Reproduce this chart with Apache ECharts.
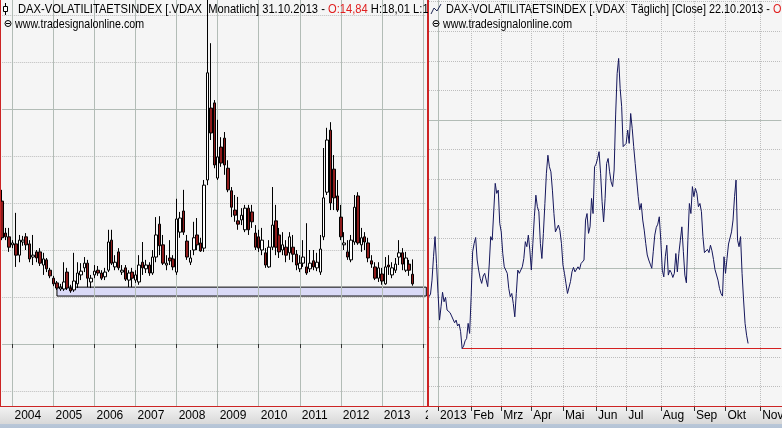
<!DOCTYPE html>
<html><head><meta charset="utf-8">
<script src="https://cdn.jsdelivr.net/npm/echarts/dist/echarts.min.js"></script>
<style>
html,body{margin:0;padding:0;background:#f5f5f5;overflow:hidden;width:782px;height:428px}
#L{position:absolute;left:0;top:0;width:428px;height:428px}
#R{position:absolute;left:428px;top:0;width:354px;height:428px}
</style></head><body>
<div id="L"></div><div id="R"></div>
<script>
// ---------- monthly candles (Oct 2003 .. Oct 2013) ----------
const vdaxOpen = [30.4,23.6,22.8,
 21.1,21.3,18.9,21.7,22.8,21.3,18.5,19.6,19.6,16.8,17.9,15.7,
 14.0,13.0,11.7,11.7,15.3,11.9,11.5,12.8,14.7,16.2,17.2,13.2,
 14.7,15.7,15.1,14.3,15.7,22.1,16.4,19.6,15.3,16.2,13.6,15.3,
 13.6,13.2,17.4,16.0,16.8,15.1,18.5,25.5,21.1,16.8,18.3,18.1,
 15.3,23.8,28.3,21.9,17.4,20.0,23.2,21.5,20.4,34.9,50.2,51.3,
 35.3,41.9,43.8,37.4,32.6,28.5,26.2,26.4,24.3,28.9,28.1,23.6,
 22.8,20.0,19.4,16.4,20.6,26.2,23.2,20.0,20.6,19.4,20.6,19.1,
 16.0,17.2,16.4,16.0,17.7,16.2,15.3,22.8,32.3,45.5,37.2,31.5,
 27.0,21.1,19.6,17.9,21.7,31.5,21.1,22.8,21.5,17.7,16.4,14.0,
 14.9,12.8,16.8,14.7,15.7,18.5,19.4,15.7,17.0,14.84];
const vdaxClose = [22.6,22.8,20.6,
 21.5,18.9,22.1,22.1,21.1,18.1,18.9,18.3,17.2,18.1,16.0,14.5,
 12.8,11.9,12.1,13.2,11.9,11.3,13.4,15.1,15.5,17.2,14.0,14.0,
 15.5,15.1,14.0,15.3,21.7,17.2,17.4,16.2,15.7,13.8,15.1,14.0,
 14.7,16.8,16.2,16.8,15.1,18.5,23.2,20.9,17.2,17.2,17.7,16.4,
 26.6,26.8,23.8,18.5,18.3,22.6,21.1,19.8,33.8,57.7,44.9,38.1,
 39.8,38.5,38.1,32.8,29.1,27.4,25.5,27.4,28.9,24.3,26.0,20.6,
 20.4,22.1,16.8,20.6,25.3,20.6,19.6,21.1,18.9,22.8,19.1,16.8,
 17.2,18.5,15.1,17.2,16.4,17.4,20.2,31.1,43.4,30.0,31.1,28.5,
 22.8,21.5,18.5,22.1,29.1,21.5,22.6,21.7,18.3,17.0,14.0,16.2,
 13.4,16.4,16.4,16.2,17.0,19.4,17.0,18.3,15.7,12.8];
const vdaxLow = [22.1,22.1,19.6,
 20.4,16.4,17.4,20.9,20.0,17.4,16.8,17.4,16.6,14.7,15.3,14.0,
 12.3,11.5,11.3,11.3,11.5,10.9,11.1,11.9,13.6,15.3,12.1,11.9,
 14.0,14.5,13.6,13.6,15.3,16.8,15.7,15.7,14.7,13.4,12.1,12.1,
 13.0,12.6,14.7,15.1,14.5,14.7,17.4,18.9,16.8,15.7,16.8,15.7,
 14.7,22.6,23.2,17.9,16.8,18.9,20.0,19.6,19.6,33.8,43.4,37.4,
 34.9,37.7,36.0,32.3,27.0,26.0,24.3,25.3,23.8,23.2,24.7,20.0,
 19.6,18.9,16.2,16.2,20.0,18.9,18.3,18.9,17.4,17.9,17.4,15.7,
 15.3,16.4,14.7,15.3,15.7,15.5,14.7,22.1,31.7,28.5,28.5,28.1,
 22.1,20.0,17.9,17.4,21.1,21.1,19.6,20.0,17.4,16.2,13.6,13.2,
 12.6,12.6,14.7,14.0,15.1,16.8,15.7,15.3,14.5,12.4];
const vdaxHigh = [32.8,24.7,24.7,
 22.1,27.9,23.2,23.0,23.6,22.1,23.2,20.0,20.4,19.4,18.3,16.2,
 14.5,13.4,12.8,17.4,16.2,12.6,19.4,17.4,17.2,18.5,17.9,14.7,
 16.8,16.6,15.7,16.2,24.3,24.3,18.9,20.4,16.8,16.8,15.7,16.2,
 15.7,18.9,21.7,17.9,17.4,20.0,27.0,27.2,23.2,18.9,22.1,18.9,
 30.9,28.1,32.8,23.2,20.0,26.0,26.8,22.6,34.9,76.0,64.0,51.9,
 47.7,44.0,45.1,39.1,33.4,31.7,31.3,28.9,29.6,29.6,29.6,25.3,
 24.3,24.7,20.4,22.1,33.4,29.6,24.7,23.8,22.1,23.8,23.2,20.0,
 18.9,22.1,25.7,20.0,20.0,19.4,23.2,41.7,46.0,47.2,40.2,34.9,
 29.6,23.8,22.1,23.2,31.7,32.3,24.7,23.8,22.6,18.9,17.4,17.4,
 16.2,18.5,18.9,17.4,18.3,22.1,20.4,19.6,17.9,18.01];
const BAND_LOW = 10.2, BAND_HIGH = 12.1, BAND_FROM = '2005-02';

// ---------- daily closes (18.12.2012 .. 22.10.2013) ----------
const dailyClose = [
 14.03,14.12,14.59,15.38,16.06,15.15,14.14,13.24,13.69,14.18,
 13.86,14.01,13.58,13.52,13.49,13.38,13.44,13.15,13.24,13.04,
 13.11,12.85,12.28,12.36,12.54,12.62,13.13,12.79,14.03,15.55,
 15.83,16.03,15.27,14.93,14.65,14.48,14.73,14.82,14.87,14.37,
 15.10,16.06,15.94,16.00,17.86,17.52,17.63,16.51,16.22,15.49,
 15.04,14.93,14.82,14.31,14.03,14.14,13.80,13.35,14.14,14.93,
 14.82,14.93,15.04,15.32,15.89,15.72,16.11,15.61,14.93,15.83,
 16.73,17.46,17.07,16.90,15.83,15.32,16.17,17.18,18.20,18.81,
 18.42,18.25,17.63,16.84,16.22,16.22,16.45,16.26,15.83,15.10,
 14.82,14.48,14.14,14.12,14.54,14.87,15.02,14.87,14.93,15.04,
 14.95,15.15,15.10,15.27,16.62,16.84,16.17,16.39,17.35,16.84,
 18.42,18.51,18.70,18.93,18.20,17.24,16.56,17.35,18.53,18.70,
 18.25,17.91,17.75,18.31,20.17,21.57,22.08,21.07,20.45,19.10,
 19.15,19.21,19.66,19.21,20.22,19.72,19.10,18.53,17.97,17.41,
 16.96,17.18,16.62,16.28,15.83,15.44,15.27,15.13,14.99,15.55,
 16.11,16.37,16.48,16.73,15.94,14.93,14.70,15.38,15.77,14.76,
 14.93,14.84,14.68,14.82,15.49,14.87,15.49,15.94,16.39,15.55,
 14.76,14.50,15.94,17.18,16.84,17.75,17.41,17.69,17.52,17.07,
 17.18,16.90,16.06,15.52,15.49,15.63,15.52,15.77,15.58,15.29,
 14.95,14.93,14.59,14.31,14.14,14.05,15.38,14.82,15.32,15.81,
 15.77,16.22,16.62,17.41,17.97,15.94,15.72,16.06,14.82,13.92,
 13.13,12.73,12.45];
const LOW_LINE = 12.28, LOW_FROM_INDEX = 22;

// ---------- axis labels / texts ----------
const MONTH_LABELS = ['Jan','Feb','Mrz','Apr','Mai','Jun','Jul','Aug','Sep','Okt','Nov','Dez'];
const HOLIDAYS = ['2012-12-24','2012-12-25','2012-12-26','2012-12-31','2013-01-01','2013-03-29','2013-04-01','2013-05-01'];
const TITLE_L = 'DAX-VOLATILITAETSINDEX [.VDAX  Monatlich] 31.10.2013 - ';
const TITLE_L_O = 'O:14,84', TITLE_L_REST = ' H:18,01 L:12,4';
const TITLE_R = 'DAX-VOLATILITAETSINDEX [.VDAX  Täglich] [Close] 22.10.2013 - ';
const TITLE_R_O = 'O:';
const SOURCE = 'www.tradesignalonline.com';

// monthly categories Oct 2003 .. Feb 2014
const monthCats = [];
for (let i = 0; i < 125; i++) {
  const y = 2003 + Math.floor((9 + i) / 12), m = (9 + i) % 12 + 1;
  monthCats.push(y + '-' + String(m).padStart(2, '0'));
}
// trading-day categories
const dayCats = [];
{
  const d = new Date(Date.UTC(2012, 11, 18));
  while (dayCats.length < 235) {
    const wd = d.getUTCDay(), s = d.toISOString().slice(0, 10);
    if (wd !== 0 && wd !== 6 && HOLIDAYS.indexOf(s) < 0) dayCats.push(s);
    d.setUTCDate(d.getUTCDate() + 1);
  }
}
const isMonthStart = i => i > 0 && dayCats[i].slice(0, 7) !== dayCats[i - 1].slice(0, 7);
const yearStarts = monthCats.filter(v => v.endsWith('-01'));
const monthStarts = dayCats.filter((v, i) => isMonthStart(i));

const FONT = '"Liberation Sans",Arial,sans-serif';
const TFONT = '13px ' + FONT;
const RED = '#cc2424';
const SOLID = '#b2bcb6';
const DOT = '#bdbdbd';

const mctx = document.createElement('canvas').getContext('2d');
function fit(text, target) { mctx.font = TFONT; return target / mctx.measureText(text).width; }

function strip(w) {
  return {
    type: 'rect', z: 100, silent: true,
    shape: { x: 0, y: 407, width: w, height: 21 },
    style: { fill: new echarts.graphic.LinearGradient(0, 0, 0, 1, [
      { offset: 0, color: '#f2f2f2' }, { offset: 0.8, color: '#d8d8d8' },
      { offset: 0.81, color: '#b9c7d8' }, { offset: 1, color: '#b4c3d6' }]) }
  };
}
function rline(x1, y1, x2, y2) {
  return { type: 'line', z: 150, silent: true, shape: { x1, y1, x2, y2 }, style: { stroke: RED, lineWidth: 1 } };
}
function txt(x, y, text, sx, rich) {
  return { type: 'text', z: 150, silent: true, x, y, scaleX: sx, originX: 0, originY: 0,
    style: { x: 0, y: 0, text, font: TFONT, fill: '#000', verticalAlign: 'middle', rich: rich || {} } };
}
function wwwIcon(x) {
  return { type: 'group', z: 150, silent: true, children: [
    { type: 'circle', shape: { cx: x, cy: 23.5, r: 3 }, style: { fill: 'none', stroke: '#000', lineWidth: 1 }, z: 150 },
    { type: 'line', shape: { x1: x - 2, y1: 23.5, x2: x + 2, y2: 23.5 }, style: { stroke: '#000', lineWidth: 1 }, z: 150 }
  ] };
}
const richBase = {
  a: { fill: '#000', font: TFONT },
  r: { fill: '#e02020', font: TFONT }
};
function labelAxis(cats, offset, showFn, fmt) {
  return { type: 'category', data: cats, boundaryGap: false, position: 'bottom', offset, z: 200,
    axisLine: { show: false },
    axisTick: { show: true, interval: showFn, length: 4, lineStyle: { color: '#333' } },
    axisLabel: { show: true, interval: showFn, formatter: fmt, align: 'left', margin: 3,
      padding: [0, 0, 0, 2], fontFamily: FONT, fontSize: 12, color: '#000' },
    splitLine: { show: false } };
}
function gridY(min, max, step, type, color) {
  return { type: 'value', min, max, interval: step, axisLine: { show: false }, axisTick: { show: false },
    axisLabel: { show: false }, splitLine: { show: true, lineStyle: { type, color } } };
}

// ---------- left chart ----------
const candleData = vdaxOpen.map((o, i) => [o, vdaxClose[i], vdaxLow[i], vdaxHigh[i]]);
const chartL = echarts.init(document.getElementById('L'), null, { renderer: 'canvas' });
chartL.setOption({
  animation: false,
  backgroundColor: '#f5f5f5',
  grid: { left: 2.24, right: 1.7, top: -32, bottom: -151, containLabel: false, outerBoundsMode: 'none' },
  xAxis: [labelAxis(monthCats, -172.5, (i, v) => v.endsWith('-01'), v => v.slice(0, 4))],
  yAxis: [gridY(-50, 80, 10, 'dotted', DOT), gridY(-50, 80, 50, 'solid', SOLID)],
  series: [{
    type: 'candlestick', data: candleData, barWidth: 3, clip: false, z: 3,
    itemStyle: { color: '#ffffff', color0: '#8e1b1b', borderColor: '#000', borderColor0: '#000', borderWidth: 1 },
    markArea: { silent: true, z: 1, itemStyle: { color: '#dadaf7', borderColor: '#000', borderWidth: 1 },
      data: [[{ xAxis: BAND_FROM, yAxis: BAND_LOW }, { xAxis: monthCats[monthCats.length - 1], yAxis: BAND_HIGH }]] },
    markLine: { silent: true, z: 2, symbol: 'none', label: { show: false },
      lineStyle: { color: SOLID, width: 1, type: 'solid' },
      data: yearStarts.map(v => ({ xAxis: v })) }
  }],
  graphic: [
    strip(428),
    rline(0.5, 0, 0.5, 407), rline(427.5, 0, 427.5, 407), rline(0, 406.5, 428, 406.5),
    { type: 'line', z: 150, silent: true, shape: { x1: 5.5, y1: 3, x2: 5.5, y2: 15 }, style: { stroke: '#000', lineWidth: 1 } },
    { type: 'rect', z: 151, silent: true, shape: { x: 3.5, y: 6.5, width: 4, height: 5 }, style: { fill: '#fff', stroke: '#000', lineWidth: 1 } },
    txt(18, 9, '{a|' + TITLE_L + '}{r|' + TITLE_L_O + '}{a|' + TITLE_L_REST + '}', fit(TITLE_L, 310), richBase),
    wwwIcon(8), txt(15, 24.5, SOURCE, fit(SOURCE, 129))
  ]
});

// ---------- right chart ----------
const chartR = echarts.init(document.getElementById('R'), null, { renderer: 'canvas' });
chartR.setOption({
  animation: false,
  backgroundColor: '#f5f5f5',
  grid: { left: 1, right: 0.8, top: -10.24, bottom: 12, containLabel: false, outerBoundsMode: 'none' },
  xAxis: [labelAxis(dayCats, -9, i => isMonthStart(i),
    v => v.slice(5, 7) === '01' ? v.slice(0, 4) : MONTH_LABELS[+v.slice(5, 7) - 1])],
  yAxis: [gridY(10, 24.4, 1, 'dotted', DOT), gridY(10, 24.4, 5, 'solid', SOLID)],
  series: [{
    type: 'line', data: dailyClose, symbol: 'none', showSymbol: false, z: 3,
    lineStyle: { color: '#15175c', width: 1 }, itemStyle: { color: '#15175c' },
    markLine: { silent: true, z: 2, symbol: 'none', label: { show: false },
      data: monthStarts.map(v => ({ xAxis: v,
        lineStyle: v.slice(5, 7) === '01' ? { color: SOLID, width: 1, type: 'solid' } : { color: DOT, width: 1, type: 'dotted' } }))
        .concat([[{ xAxis: LOW_FROM_INDEX, yAxis: LOW_LINE, lineStyle: { color: '#d42020', width: 1, type: 'solid' } },
                  { xAxis: dayCats.length - 1, yAxis: LOW_LINE }]]) }
  }],
  graphic: [
    strip(354),
    rline(0.5, 0, 0.5, 407), rline(0, 406.5, 354, 406.5),
    { type: 'polyline', z: 150, silent: true, shape: { points: [[3, 14], [6, 8], [9, 11], [13, 4]] }, style: { stroke: '#222a55', lineWidth: 1, fill: 'none' } },
    txt(18, 9, '{a|' + TITLE_R + '}{r|' + TITLE_R_O + '}', fit(TITLE_R, 327), richBase),
    wwwIcon(8), txt(15, 24.5, SOURCE, fit(SOURCE, 129))
  ]
});
</script>
</body></html>
